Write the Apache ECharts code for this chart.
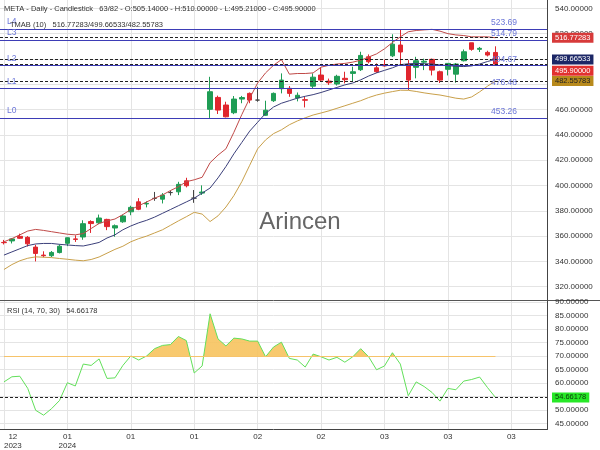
<!DOCTYPE html>
<html><head><meta charset="utf-8">
<script src="https://cdn.jsdelivr.net/npm/echarts@6/dist/echarts.min.js"></script>
<style>html,body{margin:0;padding:0;background:#fff}#c{width:600px;height:450px}</style>
</head><body><div id="c"></div>
<script>
const dates = ['2023-12-26','2023-12-27','2023-12-28','2023-12-29','2024-01-02','2024-01-03','2024-01-04','2024-01-05','2024-01-08','2024-01-09','2024-01-10','2024-01-11','2024-01-12','2024-01-16','2024-01-17','2024-01-18','2024-01-19','2024-01-22','2024-01-23','2024-01-24','2024-01-25','2024-01-26','2024-01-29','2024-01-30','2024-01-31','2024-02-01','2024-02-02','2024-02-05','2024-02-06','2024-02-07','2024-02-08','2024-02-09','2024-02-12','2024-02-13','2024-02-14','2024-02-15','2024-02-16','2024-02-20','2024-02-21','2024-02-22','2024-02-23','2024-02-26','2024-02-27','2024-02-28','2024-02-29','2024-03-01','2024-03-04','2024-03-05','2024-03-06','2024-03-07','2024-03-08','2024-03-11','2024-03-12','2024-03-13','2024-03-14','2024-03-15','2024-03-18','2024-03-19','2024-03-20','2024-03-21','2024-03-22','2024-03-25','2024-03-26','2024-03-27','2024-03-28','2024-04-01','2024-04-02','2024-04-03','2024-04-04'];
const opens  = [355.0,356.2,359.8,359.0,351.3,345.0,344.5,347.0,354.3,357.8,359.3,371.5,370.5,373.2,366.4,371.3,379.2,387.1,385.4,389.8,389.2,394.4,395.0,403.7,390.0,394.0,460.2,469.6,463.6,457.5,468.3,472.8,467.5,455.5,467.0,476.5,476.8,469.2,467.8,478.5,487.3,482.5,480.2,484.7,488.6,491.5,501.7,493.0,495.5,502.5,511.0,495.7,493.4,497.5,499.7,489.9,491.8,488.0,498.6,512.8,507.6,505.2,505.14];
const closes = [354.8,357.8,358.3,353.9,346.3,344.5,347.1,352.0,358.7,357.4,369.8,369.9,374.3,367.5,368.2,375.9,382.7,381.2,385.9,389.8,392.4,394.4,400.9,399.8,390.0,394.8,474.1,459.6,454.3,468.3,469.5,467.5,467.5,459.5,472.8,483.3,472.8,471.3,467.4,485.6,483.3,481.2,486.3,483.6,489.9,502.8,497.8,489.9,494.5,511.7,505.5,483.3,498.6,498.2,491.2,483.3,496.5,496.0,505.7,507.6,508.4,503.1,495.90];
const lows   = [353.4,354.2,357.8,351.8,340.0,343.2,343.4,346.3,352.1,355.4,357.1,362.5,369.5,364.7,359.5,370.5,376.5,380.5,382.7,387.9,385.8,392.1,392.4,398.5,386.3,392.5,453.4,456.5,453.8,456.4,465.0,465.0,466.2,455.0,466.0,472.8,470.1,466.5,461.7,476.8,482.0,479.5,479.0,480.7,482.0,490.5,496.5,489.0,494.0,501.5,494.5,475.4,484.7,491.2,487.0,481.0,487.0,481.2,498.0,506.5,505.5,502.0,495.21];
const highs  = [357.0,358.5,361.9,360.0,353.2,348.0,348.2,353.5,359.0,360.6,372.5,372.5,377.0,373.7,369.2,377.0,384.0,390.0,387.5,394.9,394.0,396.1,402.9,406.1,396.4,400.1,485.9,471.0,466.2,470.7,470.8,473.5,478.0,467.0,473.5,488.6,478.6,473.5,470.1,488.6,493.0,484.5,487.5,489.9,493.9,505.7,503.6,496.5,499.5,519.5,523.2,499.1,501.7,500.2,500.3,490.8,496.8,496.8,507.5,512.8,509.5,506.5,510.00];
const tmabUpper = [355.5,358,361,364,365.3,364.5,363.5,362.5,361.5,361,362,366,370,372,373.5,377,381,384,387,390,392.5,396,399,403,404.5,406.5,418,424,429,442,456,469,481,489,495,499.5,488,488.5,488.5,489,493.5,495,496,496.5,497.5,499,501.5,504,508,513,517.5,521.5,522.5,523,523.4,522,520,519,518.5,517.5,517.5,517.5,516.77283];
const tmabMid = [345,347.5,350,352.5,353.8,354.2,354.2,353.5,353,352.5,352.2,353.5,355,358.5,361,365,368,370.5,372.5,375,378,381,384,387,390,394,398,406,415,425,434,443,450,457,462,465,467,469,470.5,471.8,473.5,475.5,477.5,479.5,481,483.5,486.5,489,491,493,495.5,496.2,496.5,496.3,496,495.3,494.7,494.2,494,494.5,496,498,499.66533];
const tmabLower = [333.6,337.5,340.5,342.5,343.6,343.3,343,342.3,341.7,341,340.5,341.5,343.5,346.5,349.5,352,355.5,358,360,362.5,365,368.5,372,375.3,378.8,377.4,371.5,376,383,392,403,416,429,436,441,444,448,451,453.5,455.7,457.3,459,461,463,465,467,469.5,471.5,473,474.2,475.3,475.2,474.3,473.2,472.3,471.5,470.3,469,468.3,470,474,478.5,482.55783];
const rsi = [60.4,62.3,62.5,58.0,49.9,48.1,50.5,53.5,60.1,58.9,67.0,66.5,68.9,61.7,61.9,66.5,70.0,68.5,70.0,72.7,73.9,74.2,77.2,75.7,63.7,66.3,85.6,76.3,73.7,76.6,76.3,75.5,75.5,69.7,73.3,75.1,69.1,68.5,65.9,70.7,69.7,68.5,69.5,67.7,69.7,72.7,69.7,64.9,66.3,71.2,67.0,55.3,60.4,58.7,56.5,53.3,58.0,57.5,60.7,61.3,62.2,58.3,54.66178];
const levelNames = ['L0','L1','L2','L3','L4'];
const levelValues = [453.26,476.48,494.67,514.79,523.69];
const priceTicks = [320,340,360,380,400,420,440,460,480,500,520,540];
const rsiTicks = [45,50,55,60,65,70,75,80,85,90];
const rsiOverbought = 70;
const barsTotal = 82;

const FF = 'Liberation Sans, Arial, sans-serif';
const n = opens.length;
const last = n - 1;
const f5 = v => v.toFixed(5);
const header = 'META - Daily - Candlestick   ' + n + '/' + barsTotal + ' - O:' + f5(opens[last]) + ' - H:' + f5(highs[last]) + ' - L:' + f5(lows[last]) + ' - C:' + f5(closes[last]);
const tmabText = 'TMAB (10)   ' + f5(tmabUpper[last]) + '/' + f5(tmabMid[last]) + '/' + f5(tmabLower[last]);
const rsiText = 'RSI (14, 70, 30)   ' + f5(rsi[last]);

const labelInterval = (idx) => idx % 8 === 0;
const labelFmt = (val, idx) => {
  const m = val.slice(5, 7), y = val.slice(0, 4);
  const showYear = idx === 0 || (idx >= 8 && dates[idx - 8].slice(0, 4) !== y);
  return '{m|' + m + '}' + (showYear ? '\n{m|' + y + '}' : '');
};

function tag(text, bg, fg, padTop) {
  return {
    show: true, position: 'end', distance: 5,
    formatter: '{t|' + text + '}',
    padding: [padTop || 0, 0, 0, 0],
    rich: { t: { backgroundColor: bg, color: fg, padding: [1, 3, 1, 3], fontSize: 7.5, fontFamily: FF, lineHeight: 9 } }
  };
}
const dashed = { color: '#222', type: [3, 2], width: 1 };

const levelLines = [];
levelValues.forEach((v, k) => {
  levelLines.push({ yAxis: v, lineStyle: { color: '#3d3db6', width: 1.2, type: 'solid' },
    label: { show: true, position: 'insideStartTop', distance: [7, 3], formatter: levelNames[k], color: '#6b76d8', fontSize: 8.5, fontFamily: FF } });
  levelLines.push({ yAxis: v, lineStyle: { color: 'rgba(0,0,0,0)', width: 1, type: 'solid' },
    label: { show: true, position: 'insideEndTop', distance: [30, 2], formatter: v.toFixed(2), color: '#6b76d8', fontSize: 8.5, fontFamily: FF } });
});
levelLines.push({ yAxis: closes[last], lineStyle: dashed, label: tag(f5(closes[last]), '#e2312f', '#fff', 13) });

const chart = echarts.init(document.getElementById('c'), null, { renderer: 'canvas' });
chart.setOption({
  animation: false,
  backgroundColor: '#fff',
  textStyle: { fontFamily: FF },
  title: [
    { text: header, left: 4, top: 5, padding: 0, textStyle: { fontSize: 7.5, fontWeight: 'normal', color: '#333', fontFamily: FF } },
    { text: tmabText, left: 10, top: 20.5, padding: 0, textStyle: { fontSize: 7.5, fontWeight: 'normal', color: '#333', fontFamily: FF } },
    { text: rsiText, left: 7, top: 306.5, padding: 0, textStyle: { fontSize: 7.5, fontWeight: 'normal', color: '#333', fontFamily: FF } },
    { text: 'Arincen', left: 'center', top: 210, padding: 0, z: 0, textStyle: { fontSize: 24, fontWeight: 'normal', color: '#666', fontFamily: FF } }
  ],
  grid: [
    { left: -1, top: 0, width: 548, height: 300 },
    { left: -1, top: 300, width: 548, height: 133 }
  ],
  xAxis: [
    { type: 'category', gridIndex: 0, data: dates, boundaryGap: true,
      axisLine: { show: true, lineStyle: { color: '#555' } }, axisTick: { show: false }, axisLabel: { show: false },
      splitLine: { show: true, interval: labelInterval, alignWithLabel: true, lineStyle: { color: '#e4e4e4' } } },
    { type: 'category', gridIndex: 1, data: dates, boundaryGap: true,
      axisLine: { show: true, lineStyle: { color: '#444' } }, axisTick: { show: false },
      axisLabel: { interval: labelInterval, formatter: labelFmt, margin: 3, alignMinLabel: 'left',
        rich: { m: { align: 'center', fontSize: 8, lineHeight: 9, color: '#333', fontFamily: FF } } },
      splitLine: { show: true, interval: labelInterval, alignWithLabel: true, lineStyle: { color: '#e4e4e4' } } }
  ],
  yAxis: [
    { type: 'value', gridIndex: 0, position: 'right', min: 309.5, max: 546.6,
      axisLine: { show: true, lineStyle: { color: '#444' } },
      axisTick: { show: false, customValues: priceTicks },
      axisLabel: { customValues: priceTicks, formatter: v => v.toFixed(5), fontSize: 8, color: '#333', margin: 8, fontFamily: FF },
      splitLine: { show: true, lineStyle: { color: '#e4e4e4' } } },
    { type: 'value', gridIndex: 1, position: 'right', min: 42.8, max: 90.7,
      axisLine: { show: true, lineStyle: { color: '#444' } },
      axisTick: { show: false, customValues: rsiTicks },
      axisLabel: { customValues: rsiTicks, formatter: v => v.toFixed(5), fontSize: 8, color: '#333', margin: 8, fontFamily: FF },
      splitLine: { show: true, lineStyle: { color: '#e4e4e4' } } }
  ],
  visualMap: [{
    show: false, type: 'piecewise', seriesIndex: 4, dimension: 1,
    pieces: [{ gt: rsiOverbought, lte: 100, color: '#f7c35e' }, { gte: 0, lte: rsiOverbought, color: 'rgba(255,255,255,0)' }]
  }],
  series: [
    { type: 'candlestick', xAxisIndex: 0, yAxisIndex: 0, barWidth: 5,
      data: opens.map((o, i) => [o, closes[i], lows[i], highs[i]]),
      itemStyle: { color: '#1f9d55', color0: '#e0262e', borderColor: '#1f9d55', borderColor0: '#e0262e', borderColorDoji: '#444', borderWidth: 1 },
      markLine: { silent: true, symbol: ['none', 'none'], animation: false, data: levelLines } },
    { type: 'line', xAxisIndex: 0, yAxisIndex: 0, data: tmabUpper, showSymbol: false, lineStyle: { color: '#c04a48', width: 1 },
      markLine: { silent: true, symbol: ['none', 'none'], data: [{ yAxis: tmabUpper[last], lineStyle: dashed, label: tag(f5(tmabUpper[last]), '#d73a3a', '#fff') }] } },
    { type: 'line', xAxisIndex: 0, yAxisIndex: 0, data: tmabMid, showSymbol: false, lineStyle: { color: '#3b3f7a', width: 1 },
      markLine: { silent: true, symbol: ['none', 'none'], data: [{ yAxis: tmabMid[last], lineStyle: dashed, label: tag(f5(tmabMid[last]), '#1c2766', '#fff') }] } },
    { type: 'line', xAxisIndex: 0, yAxisIndex: 0, data: tmabLower, showSymbol: false, lineStyle: { color: '#c9a04a', width: 1 },
      markLine: { silent: true, symbol: ['none', 'none'], data: [{ yAxis: tmabLower[last], lineStyle: dashed, label: tag(f5(tmabLower[last]), '#b88a1c', '#222') }] } },
    { type: 'line', xAxisIndex: 1, yAxisIndex: 1, data: rsi, showSymbol: false,
      lineStyle: { color: '#62e05a', width: 1 },
      areaStyle: { origin: rsiOverbought, opacity: 0.9 },
      markLine: { silent: true, symbol: ['none', 'none'], data: [
        [{ coord: [0, rsiOverbought], lineStyle: { color: '#f6c36a', width: 1, type: 'solid' }, label: { show: false } }, { coord: [last, rsiOverbought] }],
        { yAxis: rsi[last], lineStyle: dashed, label: tag(f5(rsi[last]), '#27e827', '#0b3a0b') }
      ] } }
  ],
  graphic: [
    { type: 'line', silent: true, shape: { x1: 547, y1: 300.5, x2: 600, y2: 300.5 }, style: { stroke: '#555', lineWidth: 1 } }
  ]
});
</script></body></html>
